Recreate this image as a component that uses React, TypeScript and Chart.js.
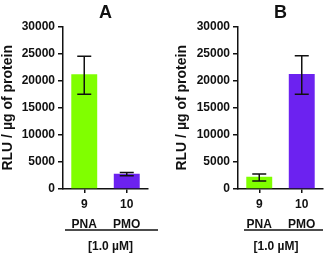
import React, { useEffect, useRef } from "react";
import { Chart, registerables } from "chart.js";

Chart.register(...registerables);

const categories = [["9", "PNA"], ["10", "PMO"]];
const barColors = ["#80FF00", "#6C22F0"];
const yMin = 0;
const yMax = 30000;
const yStep = 5000;

const panelAValues = [21200, 2800];
const panelAErrLow = [17500, 2450];
const panelAErrHigh = [24500, 3050];

const panelBValues = [2250, 21250];
const panelBErrLow = [1500, 17500];
const panelBErrHigh = [2750, 24600];

const yTitle = "RLU / µg of protein";
const concLabel = "[1.0 µM]";
const FONT = "'Liberation Sans', Arial, sans-serif";

const errorBarPlugin = {
  id: "errorBars",
  afterDatasetsDraw(chart: any, _args: any, opts: any) {
    const { ctx } = chart;
    const meta = chart.getDatasetMeta(0);
    const y = chart.scales.y;
    ctx.save();
    ctx.strokeStyle = "#111";
    ctx.lineWidth = 1.5;
    meta.data.forEach((bar: any, i: number) => {
      const x = bar.x;
      const yl = y.getPixelForValue(opts.low[i]);
      const yh = y.getPixelForValue(opts.high[i]);
      const w = 7;
      ctx.beginPath();
      ctx.moveTo(x, yl);
      ctx.lineTo(x, yh);
      ctx.moveTo(x - w, yl);
      ctx.lineTo(x + w, yl);
      ctx.moveTo(x - w, yh);
      ctx.lineTo(x + w, yh);
      ctx.stroke();
    });
    ctx.restore();
  },
};

const bracketPlugin = {
  id: "bracket",
  afterDraw(chart: any, _args: any, opts: any) {
    const { ctx, chartArea } = chart;
    ctx.save();
    ctx.strokeStyle = "#111";
    ctx.lineWidth = 1.5;
    ctx.beginPath();
    ctx.moveTo(chartArea.left + opts.lineLeft, opts.lineY);
    ctx.lineTo(chartArea.right + opts.lineRight, opts.lineY);
    ctx.stroke();
    ctx.fillStyle = "#111";
    ctx.font = `bold 12px ${FONT}`;
    ctx.textAlign = "center";
    ctx.textBaseline = "middle";
    const cx = (chartArea.left + chartArea.right) / 2 + opts.textDx;
    ctx.fillText(opts.text, cx, opts.textY);
    ctx.restore();
  },
};

type PanelProps = {
  title: string;
  values: number[];
  low: number[];
  high: number[];
  padLeft: number;
  padRight: number;
  yWidth: number;
  lineLeft: number;
  lineRight: number;
  textDx: number;
  left: number;
};

function Panel(p: PanelProps) {
  const ref = useRef<HTMLCanvasElement>(null);
  useEffect(() => {
    if (!ref.current) return;
    const chart = new Chart(ref.current, {
      type: "bar",
      data: {
        labels: categories,
        datasets: [
          {
            data: p.values,
            backgroundColor: barColors,
            borderWidth: 0,
            barPercentage: 0.61,
            categoryPercentage: 1,
          },
        ],
      },
      options: {
        animation: false,
        responsive: false,
        devicePixelRatio: 1,
        layout: { padding: { left: p.padLeft, right: p.padRight, top: 0, bottom: 0 } },
        plugins: {
          legend: { display: false },
          tooltip: { enabled: false },
          title: {
            display: true,
            text: p.title,
            fullSize: false,
            color: "#111",
            font: { family: FONT, size: 18, weight: "bold" },
            padding: { top: 2, bottom: 3 },
          },
          errorBars: { low: p.low, high: p.high },
          bracket: {
            lineLeft: p.lineLeft,
            lineRight: p.lineRight,
            lineY: 230,
            text: concLabel,
            textDx: p.textDx,
            textY: 246.5,
          },
        } as any,
        scales: {
          x: {
            grid: {
              offset: false,
              drawOnChartArea: false,
              drawTicks: true,
              tickLength: 4,
              color: "#111",
              lineWidth: 1.5,
            },
            border: { display: true, color: "#111", width: 1.5 },
            ticks: {
              color: "#111",
              font: { family: FONT, size: 12, weight: "bold", lineHeight: 1.67 },
              padding: 2,
              maxRotation: 0,
            },
            afterFit: (s: any) => {
              s.height = 64;
            },
          },
          y: {
            min: yMin,
            max: yMax,
            grid: {
              drawOnChartArea: false,
              drawTicks: true,
              tickLength: 5,
              color: "#111",
              lineWidth: 1.5,
            },
            border: { display: true, color: "#111", width: 1.5 },
            ticks: {
              stepSize: yStep,
              color: "#111",
              padding: 3,
              font: { family: FONT, size: 12, weight: "bold" },
              callback: (v: any) => String(v),
            },
            title: {
              display: true,
              text: yTitle,
              color: "#111",
              font: { family: FONT, size: 14, weight: "bold" },
              padding: { top: 0, bottom: 0 },
            },
            afterFit: (s: any) => {
              s.width = p.yWidth;
            },
          },
        },
      },
      plugins: [errorBarPlugin, bracketPlugin],
    });
    return () => chart.destroy();
  }, []);
  return (
    <canvas
      ref={ref}
      width={163}
      height={253}
      style={{ position: "absolute", left: p.left, top: 0, width: 163, height: 253 }}
    />
  );
}

export default function App() {
  return (
    <div style={{ position: "fixed", left: 0, top: 0, width: 327, height: 253, background: "#fff" }}>
      <Panel
        title="A"
        values={panelAValues}
        low={panelAErrLow}
        high={panelAErrHigh}
        padLeft={0}
        padRight={15}
        yWidth={63}
        lineLeft={2}
        lineRight={10}
        textDx={5}
        left={0}
      />
      <Panel
        title="B"
        values={panelBValues}
        low={panelBErrLow}
        high={panelBErrHigh}
        padLeft={10}
        padRight={4}
        yWidth={64}
        lineLeft={6}
        lineRight={0}
        textDx={-4.5}
        left={164}
      />
    </div>
  );
}
